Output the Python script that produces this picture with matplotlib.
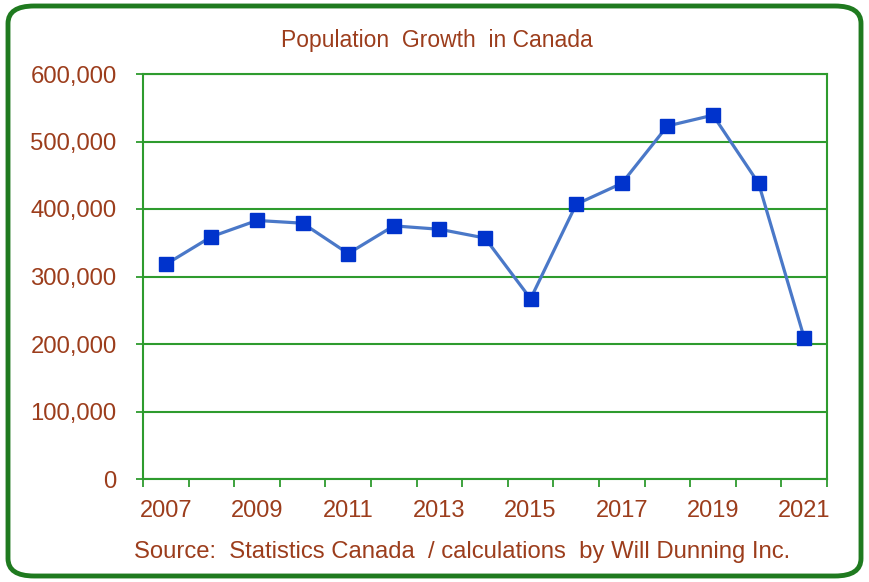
"""Population growth in Canada, 2007-2021, line chart with square markers."""

import matplotlib

matplotlib.use("Agg")
import matplotlib.pyplot as plt
from matplotlib.patches import FancyBboxPatch
from matplotlib.ticker import FuncFormatter, MultipleLocator
import numpy as np

years = ["2007", "2008", "2009", "2010", "2011", "2012", "2013", "2014",
         "2015", "2016", "2017", "2018", "2019", "2020", "2021"]
growth = [318000, 359000, 383000, 379000, 334000, 375000, 370000, 357000,
          267000, 407000, 438000, 523000, 539000, 438000, 209000]

TEXT = "#9c3d1c"
GRID = "#2e9b2e"
FRAME = "#1f7a1f"

plt.rcParams["font.family"] = ["Liberation Sans", "DejaVu Sans"]

fig = plt.figure(figsize=(8.69, 5.82), dpi=100)
W, H = 869, 582
ax = fig.add_axes([143 / W, 1 - 479 / H, (827 - 143) / W, (479 - 74) / H])

x = np.arange(len(years))
ax.plot(x, growth, color="#4a78c8", lw=2.3, zorder=3,
        marker="s", ms=10, mfc="#0033cc", mec="#0033cc")

ax.set_xlim(-0.5, len(years) - 0.5)
ax.set_ylim(0, 600000)

# y axis: 100k steps, green gridlines
ax.yaxis.set_major_locator(MultipleLocator(100000))
ax.yaxis.set_major_formatter(FuncFormatter(lambda v, _: f"{int(v):,}"))
ax.grid(axis="y", color=GRID, lw=1.5, zorder=1)
ax.tick_params(axis="y", direction="out", length=5, width=1.3, color=GRID,
               labelcolor=TEXT, labelsize=17.2, pad=14)

# x axis: tick marks between categories, labels on every second year
ax.set_xticks(np.arange(-0.5, len(years), 1.0))
ax.set_xticklabels([])
ax.set_xticks(x[::2], minor=True)
ax.set_xticklabels(years[::2], minor=True)
ax.tick_params(axis="x", which="major", direction="out", length=6, width=1.3,
               color=GRID)
ax.tick_params(axis="x", which="minor", length=0, labelcolor=TEXT,
               labelsize=17, pad=15)

for side in ax.spines.values():
    side.set_color(GRID)
    side.set_linewidth(1.5)

fig.text(437 / W, 1 - 40 / H, "Population  Growth  in Canada", ha="center",
         va="center", color=TEXT, fontsize=16.5)
fig.text(134 / W, 1 - 552 / H,
         "Source:  Statistics Canada  / calculations  by Will Dunning Inc.",
         ha="left", va="center", color=TEXT, fontsize=17.2)

frame = FancyBboxPatch((8 / W, 6 / H), (861 - 8) / W, (576 - 6) / H,
                       boxstyle="round,pad=0,rounding_size=0.03",
                       transform=fig.transFigure, fill=False,
                       edgecolor=FRAME, lw=3.5)
fig.patches.append(frame)

fig.savefig("out.png", dpi=100)
